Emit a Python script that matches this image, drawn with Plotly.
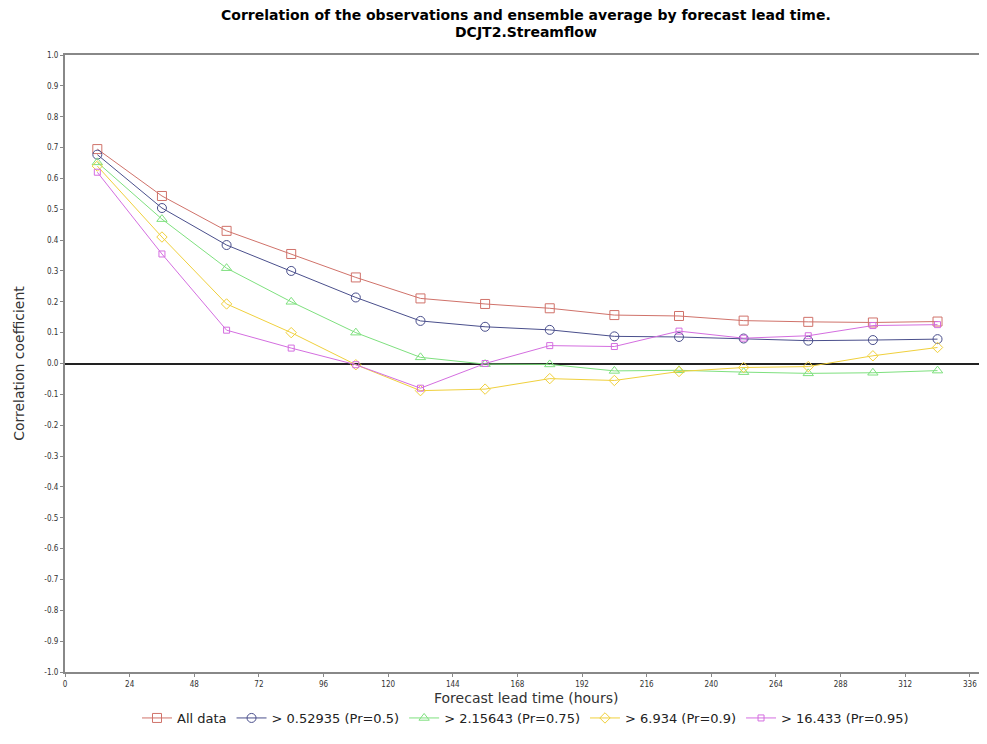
import plotly.graph_objects as go

lead_hours = [12, 36, 60, 84, 108, 132, 156, 180, 204, 228, 252, 276, 300, 324]

all_data = [0.695, 0.543, 0.43, 0.355, 0.279, 0.211, 0.193, 0.179, 0.157, 0.154, 0.139, 0.135, 0.133, 0.136]
gt_0_52935 = [0.677, 0.504, 0.384, 0.30, 0.214, 0.138, 0.119, 0.109, 0.088, 0.086, 0.081, 0.074, 0.076, 0.079]
gt_2_15643 = [0.652, 0.468, 0.309, 0.20, 0.10, 0.02, -0.002, -0.003, -0.024, -0.022, -0.028, -0.032, -0.030, -0.023]
gt_6_934 = [0.64, 0.41, 0.193, 0.10, -0.004, -0.088, -0.083, -0.049, -0.055, -0.026, -0.013, -0.010, 0.025, 0.052]
gt_16_433 = [0.62, 0.355, 0.108, 0.05, -0.004, -0.08, 0.0, 0.058, 0.055, 0.105, 0.082, 0.09, 0.123, 0.126]

series_names = ["All data", "> 0.52935 (Pr=0.5)", "> 2.15643 (Pr=0.75)", "> 6.934 (Pr=0.9)", "> 16.433 (Pr=0.95)"]
series_values = [all_data, gt_0_52935, gt_2_15643, gt_6_934, gt_16_433]

title_lines = ["Correlation of the observations and ensemble average by forecast lead time.", "DCJT2.Streamflow"]
x_title = "Forecast lead time (hours)"
y_title = "Correlation coefficient"

x_ticks = list(range(0, 337, 24))
y_ticks = [round(-1 + 0.1 * i, 1) for i in range(21)]

colors = ["#d0726a", "#4a4f8c", "#7ee07e", "#f0d03c", "#d46ee0"]
symbols = ["square-open", "circle-open", "triangle-up-open", "diamond-open", "square-open"]
sizes = [9, 9, 9, 8, 6]

W, H = 979, 736

fig = go.Figure()
for name, vals, c, s, sz in zip(series_names, series_values, colors, symbols, sizes):
    fig.add_trace(go.Scatter(
        x=lead_hours, y=vals, name=name, mode="lines+markers",
        line=dict(color=c, width=1),
        marker=dict(symbol=s, size=sz, color=c, line=dict(color=c, width=1)),
    ))

fig.update_layout(
    width=W, height=H,
    paper_bgcolor="white", plot_bgcolor="white",
    margin=dict(l=57, r=1, t=47, b=72, autoexpand=False),
    font=dict(family="DejaVu Sans", color="#333333"),
    showlegend=True,
    legend=dict(
        orientation="h", x=0.5, xref="paper", xanchor="center",
        y=(H - 710) / H, yref="container", yanchor="middle",
        font=dict(family="DejaVu Sans", size=13, color="#222222"),
        itemwidth=30, tracegroupgap=0,
    ),
)

fig.add_annotation(
    text="<b>" + title_lines[0] + "</b>", xref="paper", yref="paper",
    x=0.5, y=1, yshift=40, xanchor="center", yanchor="middle", showarrow=False,
    font=dict(family="DejaVu Sans", size=14, color="black"),
)
fig.add_annotation(
    text="<b>" + title_lines[1] + "</b>", xref="paper", yref="paper",
    x=0.5, y=1, yshift=23, xanchor="center", yanchor="middle", showarrow=False,
    font=dict(family="DejaVu Sans", size=14, color="black"),
)
fig.add_annotation(
    text=x_title, xref="paper", yref="paper",
    x=0.5, y=0, yshift=-26, xanchor="center", yanchor="middle", showarrow=False,
    font=dict(family="DejaVu Sans", size=14, color="#333333"),
)

fig.update_xaxes(
    range=[0, 342], tickvals=x_ticks, ticktext=[str(v) for v in x_ticks],
    showgrid=False, zeroline=False, automargin=False,
    showline=True, linecolor="#888888", linewidth=2, mirror=True,
    ticks="outside", ticklen=3, tickcolor="#888888",
    tickfont=dict(family="DejaVu Sans Condensed", size=8, color="#333333"),
)
fig.update_yaxes(
    range=[-1, 1], tickvals=y_ticks, ticktext=["%.1f" % v for v in y_ticks],
    showgrid=False, zeroline=True, zerolinecolor="#222222", zerolinewidth=1.5,
    automargin=False,
    showline=True, linecolor="#888888", linewidth=2, mirror=True,
    ticks="outside", ticklen=3, tickcolor="#888888",
    tickfont=dict(family="DejaVu Sans Condensed", size=8, color="#333333"),
    title=dict(text=y_title, font=dict(family="DejaVu Sans", size=14, color="#333333"), standoff=16),
)

fig.write_html("out.html")
